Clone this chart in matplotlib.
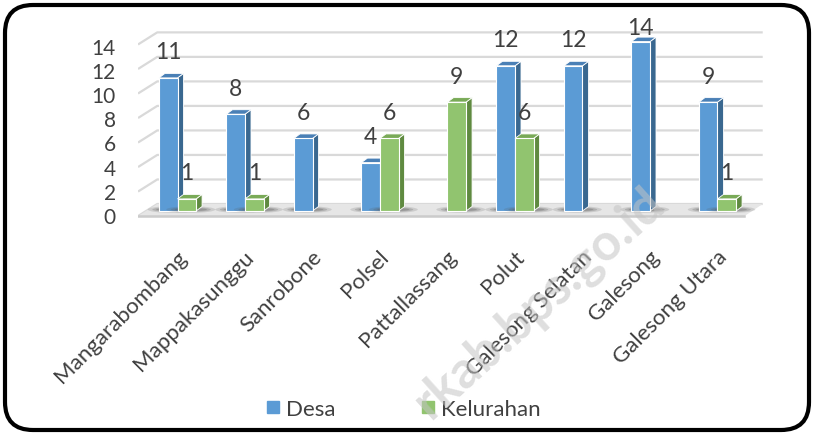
import matplotlib.pyplot as plt
import numpy as np
from matplotlib.patches import Rectangle, Polygon, FancyBboxPatch, Ellipse
from matplotlib.lines import Line2D
import matplotlib.transforms as mtransforms

plt.rcParams['font.family'] = ['Lato', 'DejaVu Sans']

# Data
kecamatan = ["Mangarabombang", "Mappakasunggu", "Sanrobone", "Polsel", "Pattallassang",
             "Polut", "Galesong Selatan", "Galesong", "Galesong Utara"]
desa = [11, 8, 6, 4, 0, 12, 12, 14, 9]
kelurahan = [1, 1, 0, 6, 9, 6, 0, 0, 1]
yticks = [0, 2, 4, 6, 8, 10, 12, 14]

# colours (front, side, top)
blue = ("#5B9BD5", "#3A6890", "#4A80B6")
green = ("#91C46F", "#5F8A40", "#79AA57")
text_col = "#404040"

W, H = 814, 435
fig = plt.figure(figsize=(W / 100, H / 100), dpi=100)

# axes placed in pixels: x index 0 -> 177.5px, 67.5px per group; value 0 -> 212px, 12.1px per unit
px_left, px_right, px_bot, px_top = 138, 770, 225, 25
ax = fig.add_axes([px_left / W, 1 - px_bot / H, (px_right - px_left) / W, (px_bot - px_top) / H])
ax.set_xlim((px_left - 177.5) / 67.5, (px_right - 177.5) / 67.5)
ax.set_ylim((212 - px_bot) / 12.1, (212 - px_top) / 12.1)
for s in ax.spines.values():
    s.set_visible(False)

bw = 0.275          # bar width (one series)
dx, dy = 0.089, 0.37  # 3d depth offsets

# back-wall gridlines with slanted left part
x_front, x_back, x_end = -0.585, -0.30, 8.67
for v in yticks:
    g = v * 1.013 + 0.58
    ax.plot([x_front, x_back, x_end], [g - 1.0, g, g], color="#D9D9D9", lw=1.6, zorder=1,
            solid_capstyle="butt")

# floor
floor = Polygon([[x_front, -0.42], [x_back, 0.58], [x_end, 0.58], [8.40, -0.42]],
                closed=True, facecolor="#E6E6E6", edgecolor="none", zorder=1.5)
ax.add_patch(floor)
ax.plot([x_front, 8.40], [-0.42, -0.42], color="#CBCBCB", lw=1.8, zorder=1.6)


def bar3d(x0, v, cols, z):
    front, side, top = cols
    # soft shadow on the floor
    for k, a in ((1.0, 0.18), (0.7, 0.25), (0.45, 0.3)):
        ax.add_patch(Ellipse((x0 + bw / 2 + 0.06, 0.12), (bw + 0.45) * k + bw * (1 - k), 0.55 * k,
                             facecolor="#595959", alpha=a, edgecolor="none", zorder=z - 0.1))
    ax.add_patch(Polygon([[x0 + bw, 0], [x0 + bw + dx, dy], [x0 + bw + dx, v + dy], [x0 + bw, v]],
                         closed=True, facecolor=side, edgecolor="white", lw=0.6, zorder=z))
    ax.add_patch(Polygon([[x0, v], [x0 + dx, v + dy], [x0 + bw + dx, v + dy], [x0 + bw, v]],
                         closed=True, facecolor=top, edgecolor="white", lw=0.6, zorder=z))
    ax.add_patch(Rectangle((x0, 0), bw, v, facecolor=front, edgecolor="white", lw=0.8, zorder=z + 0.05))


x = np.arange(len(kecamatan))
for i in x:
    if desa[i] > 0:
        bar3d(i - bw, desa[i], blue, 3)
for i in x:
    if kelurahan[i] > 0:
        bar3d(i, kelurahan[i], green, 4)

# data labels
for i in x:
    for val, xc in ((desa[i], i - bw / 2), (kelurahan[i], i + bw / 2)):
        if val > 0:
            ax.text(xc, min(val + 2.15, 15.2), str(val), ha="center", va="center",
                    fontsize=16.5, color=text_col, zorder=6)

# y tick labels
ax.set_yticks(yticks)
ax.set_yticklabels([str(t) for t in yticks], fontsize=15, color=text_col)
ax.tick_params(axis="y", length=0, pad=16)
off = mtransforms.ScaledTranslation(0, -4 / 100, fig.dpi_scale_trans)
for lab in ax.get_yticklabels():
    lab.set_transform(lab.get_transform() + off)

# x tick labels
ax.set_xticks(x)
ax.set_xticklabels(kecamatan, rotation=45, ha="right", va="center", rotation_mode="anchor",
                   fontsize=16, color=text_col)
ax.tick_params(axis="x", length=0, pad=21)
offx = mtransforms.ScaledTranslation(6 / 100, 0, fig.dpi_scale_trans)
for lab in ax.get_xticklabels():
    lab.set_transform(lab.get_transform() + offx)

# legend
handles = [Line2D([], [], marker="s", ls="none", markersize=8.5, color=blue[0]),
           Line2D([], [], marker="s", ls="none", markersize=8.5, color=green[0])]
fig.legend(handles, ["Desa", "Kelurahan"], loc="center", bbox_to_anchor=(404 / W, 1 - 410 / H),
           ncol=2, frameon=False, fontsize=16, handlelength=0.5, handletextpad=0.35,
           columnspacing=3.9, labelcolor=text_col)

# watermark
fig.text(657 / W, 1 - 196 / H, "rkab.bps.go.id", rotation=42, rotation_mode="anchor",
         ha="right", va="center", fontsize=37, fontweight="bold", color="#C4C4C4", alpha=0.55,
         zorder=10)

# rounded frame
frame = FancyBboxPatch((0.05, 0.04), 8.04, 4.25, boxstyle="round,pad=0,rounding_size=0.28",
                       transform=fig.dpi_scale_trans, facecolor="none", edgecolor="black",
                       lw=3, zorder=20)
fig.patches.append(frame)

fig.savefig("out.png", dpi=100)
